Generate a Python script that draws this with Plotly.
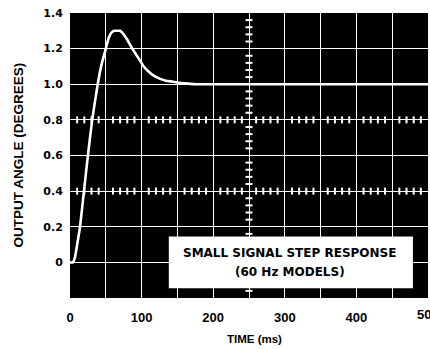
import numpy as np
import plotly.graph_objects as go

# Step response curve
time_ms = [0, 4, 7, 10, 14, 19.5, 25, 31, 38.7, 44, 50, 54, 58, 62, 66, 70, 74,
           80, 87, 95, 103, 110, 118, 126, 134, 142, 150, 160, 175, 200, 250,
           300, 350, 400, 450, 500]
angle_deg = [0, 0, 0.03, 0.1, 0.2, 0.4, 0.6, 0.8, 1.0, 1.11, 1.2, 1.26, 1.29, 1.30,
             1.30, 1.30, 1.285, 1.25, 1.2, 1.15, 1.10, 1.07, 1.045, 1.03, 1.02,
             1.015, 1.01, 1.005, 1.0, 1.0, 1.0, 1.0, 1.0, 1.0, 1.0, 1.0]

x_tickvals = [0, 50, 100, 150, 200, 250, 300, 350, 400, 450, 500]
x_ticktext = ["0", "", "100", "", "200", "", "300", "", "400", "", ""]
x_edge_label = (500, "500")   # last label sits on the page edge and is cut off
y_tickvals = [-0.2, 0, 0.2, 0.4, 0.6, 0.8, 1.0, 1.2, 1.4]
y_ticktext = ["", "0", "0.2", "0.4", "0.6", "0.8", "1.0", "1.2", "1.4"]

# oscilloscope-style graticule subdivisions
h_tick_rows = [0.8, 0.4]
v_tick_col = 250
x_sub = [x for x in np.arange(0, 501, 10) if x % 50 != 0]
y_sub = [y for y in np.round(np.arange(-0.2, 1.401, 0.04), 2) if abs(round(y / 0.2) * 0.2 - y) > 1e-6]

legend_lines = ["SMALL SIGNAL STEP RESPONSE", "(60 Hz MODELS)"]

font_family = "Liberation Sans, Arial, sans-serif"
wide_family = "DejaVu Sans, Verdana, sans-serif"

fig = go.Figure()

# subdivision marks on the center graticule lines
for yr in h_tick_rows:
    fig.add_trace(go.Scatter(
        x=x_sub, y=[yr] * len(x_sub), mode="markers",
        marker=dict(symbol="line-ns", size=5, line=dict(color="white", width=2)),
        hoverinfo="skip", showlegend=False))
fig.add_trace(go.Scatter(
    x=[v_tick_col] * len(y_sub), y=y_sub, mode="markers",
    marker=dict(symbol="line-ew", size=5, line=dict(color="white", width=2)),
    hoverinfo="skip", showlegend=False))

fig.add_trace(go.Scatter(
    x=time_ms, y=angle_deg, mode="lines",
    line=dict(color="white", width=2.6, shape="spline", smoothing=0.4),
    showlegend=False))

# white label box
fig.add_shape(type="rect", xref="x", yref="y", x0=138, x1=479, y0=-0.145, y1=0.145,
              fillcolor="white", line=dict(width=0), layer="above")
fig.add_annotation(xref="x", yref="y", x=307, y=0.05, text=legend_lines[0],
                   showarrow=False, font=dict(family=wide_family, size=12, color="black", weight="bold"))
fig.add_annotation(xref="x", yref="y", x=307, y=-0.055, text=legend_lines[1],
                   showarrow=False, font=dict(family=wide_family, size=12, color="black", weight="bold"))

# last x tick label (clipped by page edge as in original)
fig.add_annotation(xref="x", yref="paper", x=x_edge_label[0], y=(298 - 314) / 285,
                   text=x_edge_label[1], showarrow=False, xanchor="center", yanchor="middle",
                   font=dict(family=font_family, size=13, color="black", weight="bold"))

# axis titles
fig.add_annotation(xref="paper", yref="paper", x=(18 - 70) / 358, y=0.5,
                   text="OUTPUT ANGLE (DEGREES)", textangle=-90, showarrow=False,
                   xanchor="center", yanchor="middle",
                   font=dict(family=font_family, size=13.5, color="black", weight="bold"))
fig.add_annotation(xref="paper", yref="paper", x=(254 - 70) / 358, y=(298 - 339) / 285,
                   text="TIME (ms)", showarrow=False, xanchor="center", yanchor="middle",
                   font=dict(family=font_family, size=11.5, color="black", weight="bold"))

fig.update_layout(
    width=430, height=349,
    margin=dict(l=70, r=2, t=13, b=51),
    paper_bgcolor="white", plot_bgcolor="black",
    xaxis=dict(range=[0, 500], tickvals=x_tickvals, ticktext=x_ticktext,
               showgrid=True, gridcolor="white", gridwidth=1.2, zeroline=False,
               ticks="outside", ticklen=7, tickcolor="rgba(0,0,0,0)",
               showline=True, linecolor="white", linewidth=1, mirror=True,
               tickfont=dict(family=font_family, size=13, color="black", weight="bold")),
    yaxis=dict(range=[-0.2, 1.4], tickvals=y_tickvals, ticktext=y_ticktext,
               showgrid=True, gridcolor="white", gridwidth=1.2, zeroline=False,
               ticks="outside", ticklen=4, tickcolor="rgba(0,0,0,0)",
               showline=True, linecolor="white", linewidth=1, mirror=True,
               tickfont=dict(family=wide_family, size=11, color="black", weight="bold")),
)

fig.write_html("out.html")
